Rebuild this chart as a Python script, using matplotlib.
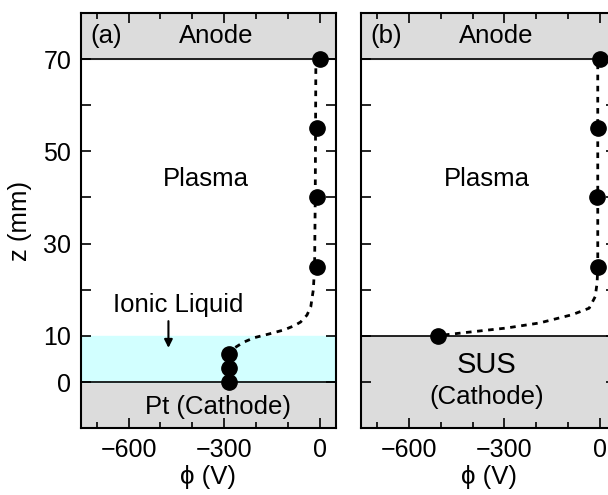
import numpy as np
import matplotlib.pyplot as plt

plt.rcParams['font.family'] = ['Liberation Sans', 'DejaVu Sans']

# measured points (V, mm)
a_v = [0, -10, -10, -10, -285, -285, -285]
a_z = [70, 55, 40, 25, 6, 3, 0]
b_v = [0, -6, -8, -6, -510]
b_z = [70, 55, 40, 25, 10]

# dotted guide curves
a_gv = [-265, -240, -206, -160, -112, -80, -60, -40, -28, -20, -16, -14, -13, -12]
a_gz = [7.5, 8.6, 9.6, 10.4, 11.3, 12.2, 13, 14.5, 16.3, 20, 25, 40, 55, 70]
b_gv = [-490, -400, -294, -190, -87, -34, -15, -9, -7, -7]
b_gz = [10.2, 10.9, 11.7, 12.8, 14.6, 16, 18.5, 21.5, 25, 70]

gray = '#dcdcdc'
cyan = '#d2ffff'
fs = 18.5

fig = plt.figure(figsize=(6.08, 4.95), dpi=100)
ax1 = fig.add_axes([0.133, 0.135, 0.419, 0.839])
ax2 = fig.add_axes([0.594, 0.135, 0.419, 0.839])

for ax in (ax1, ax2):
    ax.set_xlim(-750, 50)
    ax.set_ylim(-10, 80)
    ax.set_xticks([-600, -300, 0])
    ax.set_xticks(np.arange(-700, 1, 100), minor=True)
    ax.set_yticks(np.arange(0, 71, 10))
    ax.tick_params(which='both', direction='in', top=True, right=True, width=1.2)
    ax.tick_params(which='major', length=7, labelsize=18, pad=7)
    ax.tick_params(which='minor', length=4)
    for s in ax.spines.values():
        s.set_linewidth(1.5)
    ax.axhspan(70, 80, color=gray, zorder=0)
    ax.axhline(70, color='k', lw=1.2, zorder=1)
    ax.text(-670, 75, '(a)' if ax is ax1 else '(b)', fontsize=fs, ha='center', va='center')
    ax.text(-325, 75, 'Anode', fontsize=fs, ha='center', va='center')
    ax.text(-356, 44, 'Plasma', fontsize=fs, ha='center', va='center')
    ax.set_xlabel('\u03d5 (V)', fontsize=fs, labelpad=2)

ax1.set_yticklabels(['0', '10', '', '30', '', '50', '', '70'])
ax2.set_yticklabels([])

ax1.axhspan(-10, 0, color=gray, zorder=0)
ax1.axhspan(0, 10, color=cyan, zorder=0)
ax1.axhline(0, color='k', lw=1.2, zorder=1)
ax1.plot(a_gv, a_gz, color='k', lw=2, ls=(0, (2, 2)), zorder=2)
ax1.plot(a_v, a_z, 'o', color='k', ms=11, zorder=3)
ax1.text(-444, 16.7, 'Ionic Liquid', fontsize=fs, ha='center', va='center')
ax1.annotate('', xy=(-475, 6.8), xytext=(-475, 13.8),
             arrowprops=dict(arrowstyle='-|>', color='k', lw=1.5, mutation_scale=12))
ax1.text(-319, -5.4, 'Pt (Cathode)', fontsize=fs, ha='center', va='center')
ax1.set_ylabel('z (mm)', fontsize=fs, labelpad=8)

ax2.axhspan(-10, 10, color=gray, zorder=0)
ax2.axhline(10, color='k', lw=1.2, zorder=1)
ax2.plot(b_gv, b_gz, color='k', lw=2, ls=(0, (2, 2)), zorder=2)
ax2.plot(b_v, b_z, 'o', color='k', ms=11, zorder=3, clip_on=False)
ax2.text(-356, 3.7, 'SUS', fontsize=21, ha='center', va='center')
ax2.text(-356, -3.3, '(Cathode)', fontsize=fs, ha='center', va='center')

fig.savefig('out.png', dpi=100)
